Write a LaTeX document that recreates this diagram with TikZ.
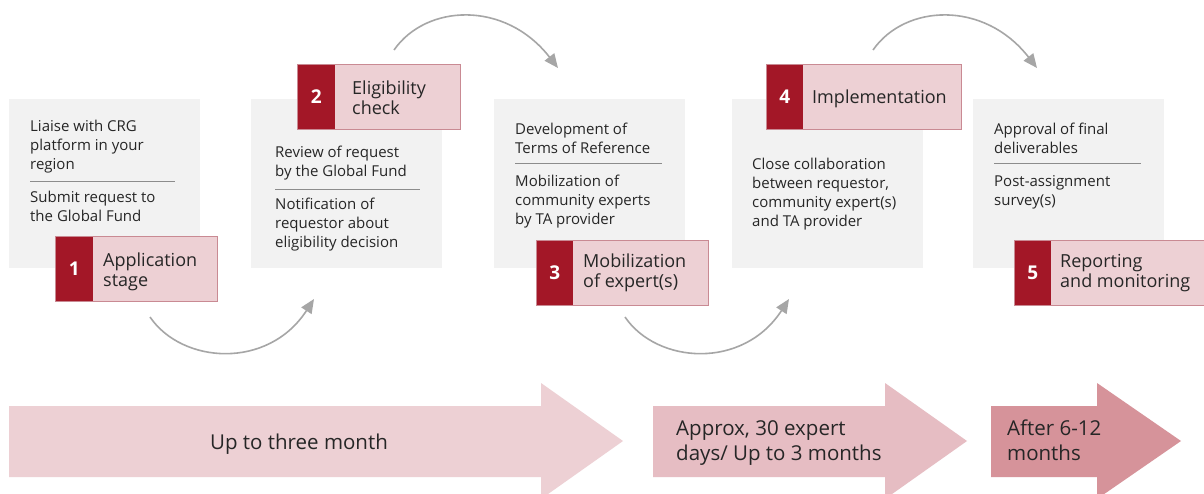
\documentclass[tikz,border=0pt]{standalone}
\usepackage{fontspec}
\setmainfont{Open Sans}
\usetikzlibrary{arrows.meta}
\definecolor{boxgray}{HTML}{F2F2F2}
\definecolor{pinkA}{HTML}{EDD0D4}
\definecolor{pinkB}{HTML}{E6BDC3}
\definecolor{pinkC}{HTML}{D6939A}
\definecolor{darkred}{HTML}{A31727}
\definecolor{pinkline}{HTML}{C98A93}
\definecolor{txt}{HTML}{262626}
\definecolor{arcgray}{HTML}{A6A6A6}
\definecolor{sepgray}{HTML}{8C8C8C}
\newcommand{\blk}[1]{\begin{tabular}[t]{@{}l@{}}#1\end{tabular}}
\begin{document}
\begin{tikzpicture}[x=1pt,y=-1pt,
  graybox/.style={fill=boxgray, draw=none, anchor=north west, inner sep=0pt, minimum width=191pt, minimum height=169pt},
  labelbox/.style={fill=pinkA, draw=pinkline, line width=0.9pt, anchor=north west, inner sep=0pt, minimum height=65pt},
  numbox/.style={fill=darkred, draw=none, anchor=north west, inner sep=0pt, minimum width=37pt, minimum height=64pt},
  numtext/.style={text=white, inner sep=0pt, font=\fontsize{19}{19}\selectfont\bfseries},
  bodytext/.style={anchor=base west, inner sep=0pt, text=txt, font=\fontsize{15}{19}\selectfont},
  labeltext/.style={anchor=base west, inner sep=0pt, text=txt, font=\fontsize{18}{20.5}\selectfont},
  arrowtext/.style={anchor=base west, inner sep=0pt, text=txt, font=\fontsize{20.5}{25}\selectfont},
  sepline/.style={draw=sepgray, line width=0.9pt},
  arc/.style={draw=arcgray, line width=1.6pt, -{Triangle[length=14pt,width=12pt]}}
]
\useasboundingbox (0,0) rectangle (1204,493);
\fill[white] (0,0) rectangle (1204,493);

% gray boxes
\node[graybox] (g1) at (9,99) {};
\node[graybox] (g2) at (251,99) {};
\node[graybox] (g3) at (494,99) {};
\node[graybox] (g4) at (732,99) {};
\node[graybox] (g5) at (973,99) {};

% box texts
\node[bodytext] (t1a) at (30,131) {\blk{Liaise with CRG\\platform in your\\region}};
\draw[sepline] (30,181) -- (175,181);
\node[bodytext] (t1b) at (30,202) {\blk{Submit request to\\the Global Fund}};

\node[bodytext] (t2a) at (275,157) {\blk{Review of request\\by the Global Fund}};
\draw[sepline] (275,189) -- (420,189);
\node[bodytext] (t2b) at (275,209) {\blk{Notification of\\requestor about\\eligibility decision}};

\node[bodytext] (t3a) at (515,134) {\blk{Development of\\Terms of Reference}};
\draw[sepline] (515,163) -- (662,163);
\node[bodytext] (t3b) at (515,186) {\blk{Mobilization of\\community experts\\by TA provider}};

\node[bodytext] (t4a) at (752,169) {\blk{Close collaboration\\between requestor,\\community expert(s)\\and TA provider}};

\node[bodytext] (t5a) at (994,134) {\blk{Approval of final\\deliverables}};
\draw[sepline] (994,163) -- (1141,163);
\node[bodytext] (t5b) at (994,186) {\blk{Post-assignment\\survey(s)}};

% label boxes
\node[labelbox, minimum width=162pt] (l1) at (55,236) {};
\node[numbox] (n1) at (55.5,236.5) {};
\node[numtext] at (n1.center) {1};
\node[labeltext] at (103,266) {\blk{Application\\stage}};

\node[labelbox, minimum width=163pt] (l2) at (297,64) {};
\node[numbox] (n2) at (297.5,64.5) {};
\node[numtext] at (n2.center) {2};
\node[labeltext] at (352,94) {\blk{Eligibility\\check}};

\node[labelbox, minimum width=172pt] (l3) at (536,240) {};
\node[numbox, minimum width=36pt] (n3) at (536.5,240.5) {};
\node[numtext] at (n3.center) {3};
\node[labeltext] at (583,267) {\blk{Mobilization\\of expert(s)}};

\node[labelbox, minimum width=195pt] (l4) at (766,64) {};
\node[numbox, minimum width=36pt] (n4) at (766.5,64.5) {};
\node[numtext] at (n4.center) {4};
\node[labeltext] at (812,103) {Implementation};

\node[labelbox, minimum width=190pt] (l5) at (1014,240) {};
\node[numbox, minimum width=36pt] (n5) at (1014.5,240.5) {};
\node[numtext] at (n5.center) {5};
\node[labeltext] at (1060,267) {\blk{Reporting\\and monitoring}};

% curved arrows
\coordinate (c1s) at (150,317); \coordinate (c1e) at (314,299);
\draw[arc] (c1s) .. controls (182,364) and (268,370) .. (c1e);
\coordinate (c2s) at (394,50); \coordinate (c2e) at (558,68);
\draw[arc] (c2s) .. controls (426,4) and (505,0) .. (c2e);
\coordinate (c3s) at (625,317); \coordinate (c3e) at (789,299);
\draw[arc] (c3s) .. controls (657,364) and (743,370) .. (c3e);
\coordinate (c4s) at (873,50); \coordinate (c4e) at (1037,68);
\draw[arc] (c4s) .. controls (905,4) and (984,0) .. (c4e);

% bottom arrows
\fill[pinkA] (9,406) -- (541,406) -- (541,383) -- (623,441) -- (541,499) -- (541,477) -- (9,477) -- cycle;
\fill[pinkB] (653,406) -- (885,406) -- (885,383) -- (967,441) -- (885,499) -- (885,477) -- (653,477) -- cycle;
\fill[pinkC] (991,406) -- (1097,406) -- (1097,383) -- (1181,441) -- (1097,499) -- (1097,477) -- (991,477) -- cycle;
\node[text=txt, inner sep=0pt, anchor=base, font=\fontsize{20.5}{25}\selectfont] (b1) at (299,449) {Up to three month};
\node[arrowtext] (b2) at (676,435) {\blk{Approx, 30 expert\\days/ Up to 3 months}};
\node[arrowtext] (b3) at (1007,435) {\blk{After 6-12\\months}};
\end{tikzpicture}
\end{document}
